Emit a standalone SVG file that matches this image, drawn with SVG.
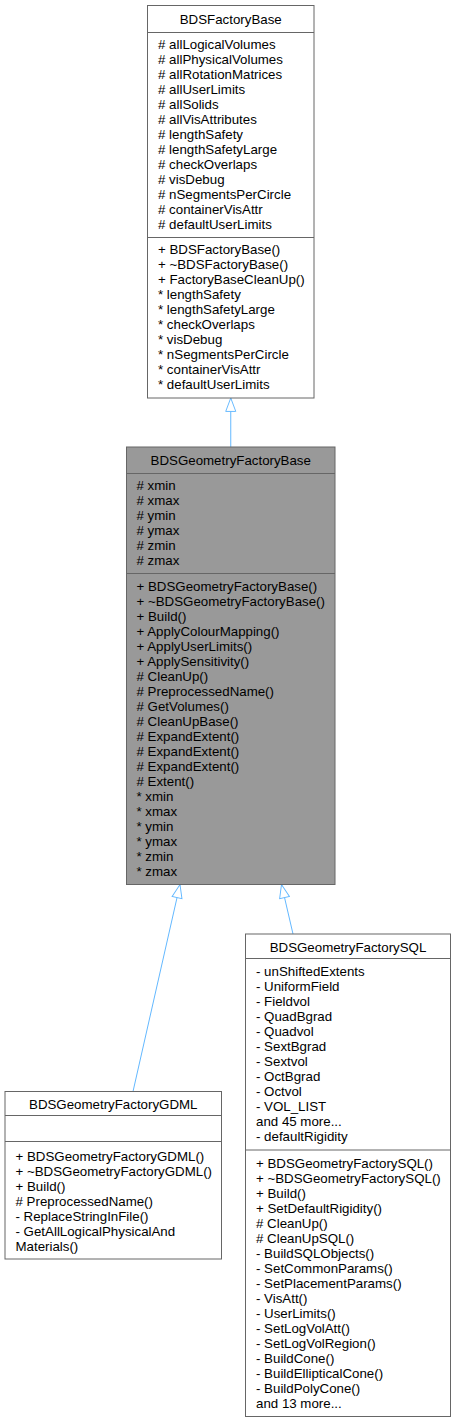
<svg xmlns="http://www.w3.org/2000/svg" width="456" height="1422" viewBox="0 0 456 1422">
<style>
.box{fill:#ffffff;stroke:#666666;stroke-width:1}
.hl{fill:#999999;stroke:#666666;stroke-width:1}
.sep{stroke:#666666;stroke-width:1}
text{font-family:"Liberation Sans",Arial,Helvetica,sans-serif;font-size:13.3px;fill:#000000}
.t{text-anchor:middle}
.edge{stroke:#63b8ff;stroke-width:1;fill:none}
</style>
<defs>
<marker id="inh" markerUnits="userSpaceOnUse" markerWidth="16" markerHeight="12" refX="14" refY="5.25" orient="auto" viewBox="-1 -1 16 12.5">
<path d="M0,0 L14,5.25 L0,10.5 Z" fill="#ffffff" stroke="#63b8ff" stroke-width="1"/>
</marker>
</defs>
<rect width="456" height="1422" fill="#ffffff"/>
<g id="connectors">
<line class="edge" x1="230.75" y1="447" x2="230.75" y2="398" marker-end="url(#inh)"/>
<line class="edge" x1="133" y1="1091.5" x2="180" y2="884.5" marker-end="url(#inh)"/>
<line class="edge" x1="293" y1="934" x2="281.5" y2="884.5" marker-end="url(#inh)"/>
</g>
<g id="BDSFactoryBase">
<rect class="box" x="147.5" y="5.5" width="166.5" height="392.5"/>
<line class="sep" x1="147.5" y1="32.5" x2="314" y2="32.5"/>
<line class="sep" x1="147.5" y1="237.5" x2="314" y2="237.5"/>
<text class="t" x="230.75" y="23.5">BDSFactoryBase</text>
<text x="158" y="49">
<tspan x="158" y="49"># allLogicalVolumes</tspan>
<tspan x="158" y="64"># allPhysicalVolumes</tspan>
<tspan x="158" y="79"># allRotationMatrices</tspan>
<tspan x="158" y="94"># allUserLimits</tspan>
<tspan x="158" y="109"># allSolids</tspan>
<tspan x="158" y="124"># allVisAttributes</tspan>
<tspan x="158" y="139"># lengthSafety</tspan>
<tspan x="158" y="154"># lengthSafetyLarge</tspan>
<tspan x="158" y="169"># checkOverlaps</tspan>
<tspan x="158" y="184"># visDebug</tspan>
<tspan x="158" y="199"># nSegmentsPerCircle</tspan>
<tspan x="158" y="214"># containerVisAttr</tspan>
<tspan x="158" y="229"># defaultUserLimits</tspan>
</text>
<text x="158" y="254">
<tspan x="158" y="254">+ BDSFactoryBase()</tspan>
<tspan x="158" y="269">+ ~BDSFactoryBase()</tspan>
<tspan x="158" y="284">+ FactoryBaseCleanUp()</tspan>
<tspan x="158" y="299">* lengthSafety</tspan>
<tspan x="158" y="314">* lengthSafetyLarge</tspan>
<tspan x="158" y="329">* checkOverlaps</tspan>
<tspan x="158" y="344">* visDebug</tspan>
<tspan x="158" y="359">* nSegmentsPerCircle</tspan>
<tspan x="158" y="374">* containerVisAttr</tspan>
<tspan x="158" y="389">* defaultUserLimits</tspan>
</text>
</g>
<g id="BDSGeometryFactoryBase">
<rect class="hl" x="126.5" y="447" width="208.5" height="437.5"/>
<line class="sep" x1="126.5" y1="473.5" x2="335" y2="473.5"/>
<line class="sep" x1="126.5" y1="573.5" x2="335" y2="573.5"/>
<text class="t" x="230.75" y="464.5">BDSGeometryFactoryBase</text>
<text x="136.5" y="490">
<tspan x="136.5" y="490"># xmin</tspan>
<tspan x="136.5" y="505"># xmax</tspan>
<tspan x="136.5" y="520"># ymin</tspan>
<tspan x="136.5" y="535"># ymax</tspan>
<tspan x="136.5" y="550"># zmin</tspan>
<tspan x="136.5" y="565"># zmax</tspan>
</text>
<text x="136.5" y="591">
<tspan x="136.5" y="591">+ BDSGeometryFactoryBase()</tspan>
<tspan x="136.5" y="606">+ ~BDSGeometryFactoryBase()</tspan>
<tspan x="136.5" y="621">+ Build()</tspan>
<tspan x="136.5" y="636">+ ApplyColourMapping()</tspan>
<tspan x="136.5" y="651">+ ApplyUserLimits()</tspan>
<tspan x="136.5" y="666">+ ApplySensitivity()</tspan>
<tspan x="136.5" y="681"># CleanUp()</tspan>
<tspan x="136.5" y="696"># PreprocessedName()</tspan>
<tspan x="136.5" y="711"># GetVolumes()</tspan>
<tspan x="136.5" y="726"># CleanUpBase()</tspan>
<tspan x="136.5" y="741"># ExpandExtent()</tspan>
<tspan x="136.5" y="756"># ExpandExtent()</tspan>
<tspan x="136.5" y="771"># ExpandExtent()</tspan>
<tspan x="136.5" y="786"># Extent()</tspan>
<tspan x="136.5" y="801">* xmin</tspan>
<tspan x="136.5" y="816">* xmax</tspan>
<tspan x="136.5" y="831">* ymin</tspan>
<tspan x="136.5" y="846">* ymax</tspan>
<tspan x="136.5" y="861">* zmin</tspan>
<tspan x="136.5" y="876">* zmax</tspan>
</text>
</g>
<g id="BDSGeometryFactoryGDML">
<rect class="box" x="5" y="1091.5" width="216.5" height="167.5"/>
<line class="sep" x1="5" y1="1115.5" x2="221.5" y2="1115.5"/>
<line class="sep" x1="5" y1="1141.5" x2="221.5" y2="1141.5"/>
<text class="t" x="113.25" y="1109">BDSGeometryFactoryGDML</text>
<text x="15.5" y="1161">
<tspan x="15.5" y="1161">+ BDSGeometryFactoryGDML()</tspan>
<tspan x="15.5" y="1176">+ ~BDSGeometryFactoryGDML()</tspan>
<tspan x="15.5" y="1191">+ Build()</tspan>
<tspan x="15.5" y="1206"># PreprocessedName()</tspan>
<tspan x="15.5" y="1221">- ReplaceStringInFile()</tspan>
<tspan x="15.5" y="1236">- GetAllLogicalPhysicalAnd</tspan>
<tspan x="15.5" y="1251">Materials()</tspan>
</text>
</g>
<g id="BDSGeometryFactorySQL">
<rect class="box" x="245.5" y="934" width="205" height="482.5"/>
<line class="sep" x1="245.5" y1="958.5" x2="450.5" y2="958.5"/>
<line class="sep" x1="245.5" y1="1150" x2="450.5" y2="1150"/>
<text class="t" x="348" y="952">BDSGeometryFactorySQL</text>
<text x="256" y="976">
<tspan x="256" y="976">- unShiftedExtents</tspan>
<tspan x="256" y="991">- UniformField</tspan>
<tspan x="256" y="1006">- Fieldvol</tspan>
<tspan x="256" y="1021">- QuadBgrad</tspan>
<tspan x="256" y="1036">- Quadvol</tspan>
<tspan x="256" y="1051">- SextBgrad</tspan>
<tspan x="256" y="1066">- Sextvol</tspan>
<tspan x="256" y="1081">- OctBgrad</tspan>
<tspan x="256" y="1096">- Octvol</tspan>
<tspan x="256" y="1111">- VOL_LIST</tspan>
<tspan x="256" y="1126">and 45 more...</tspan>
<tspan x="256" y="1141">- defaultRigidity</tspan>
</text>
<text x="256" y="1168">
<tspan x="256" y="1168">+ BDSGeometryFactorySQL()</tspan>
<tspan x="256" y="1183">+ ~BDSGeometryFactorySQL()</tspan>
<tspan x="256" y="1198">+ Build()</tspan>
<tspan x="256" y="1213">+ SetDefaultRigidity()</tspan>
<tspan x="256" y="1228"># CleanUp()</tspan>
<tspan x="256" y="1243"># CleanUpSQL()</tspan>
<tspan x="256" y="1258">- BuildSQLObjects()</tspan>
<tspan x="256" y="1273">- SetCommonParams()</tspan>
<tspan x="256" y="1288">- SetPlacementParams()</tspan>
<tspan x="256" y="1303">- VisAtt()</tspan>
<tspan x="256" y="1318">- UserLimits()</tspan>
<tspan x="256" y="1333">- SetLogVolAtt()</tspan>
<tspan x="256" y="1348">- SetLogVolRegion()</tspan>
<tspan x="256" y="1363">- BuildCone()</tspan>
<tspan x="256" y="1378">- BuildEllipticalCone()</tspan>
<tspan x="256" y="1393">- BuildPolyCone()</tspan>
<tspan x="256" y="1408">and 13 more...</tspan>
</text>
</g>
</svg>
